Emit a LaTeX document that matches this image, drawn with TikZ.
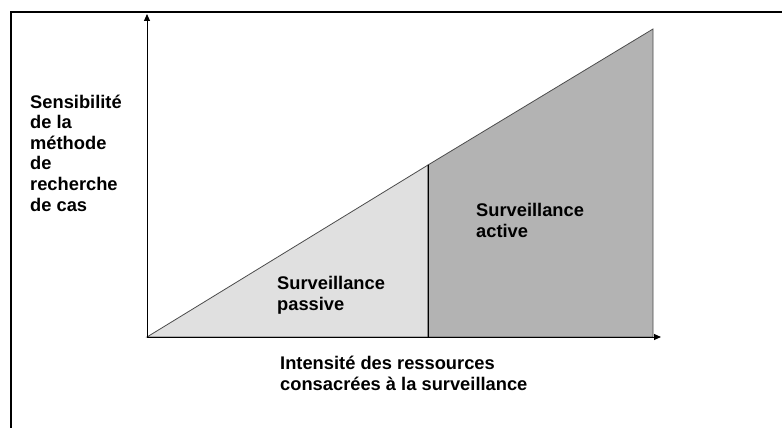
\documentclass[tikz,border=0pt]{standalone}
\usepackage{fontspec}
\setmainfont{Liberation Sans}
\usetikzlibrary{arrows.meta}

\definecolor{passivegray}{HTML}{E0E0E0}
\definecolor{activegray}{HTML}{B3B3B3}
\tikzset{lbl/.style={anchor=base west,align=left,inner sep=0pt,font=\bfseries\fontsize{18.3}{20.6}\selectfont}}

\begin{document}
\begin{tikzpicture}[x=1pt,y=-1pt]
\useasboundingbox (0,0) rectangle (782,428);
\clip (0,0) rectangle (782,428);
\draw[line width=2pt] (11,440) -- (11,12) -- (800,12);
\coordinate (o) at (147,337);
\coordinate (mid) at (428,337);
\coordinate (midtop) at (428,165);
\coordinate (rgt) at (653,337);
\coordinate (apex) at (653,29);
\coordinate (xend) at (661,337);
\coordinate (yend) at (147,14);
\draw[line width=0.8pt,draw=black!70,fill=passivegray] (o) -- (mid) -- (midtop) -- cycle;
\draw[line width=0.8pt,draw=black!70,fill=activegray] (mid) -- (rgt) -- (apex) -- (midtop) -- cycle;
\draw[line width=1pt] (mid) -- (midtop);
\draw[line width=1pt,-{Triangle[length=7pt,width=6pt]}] (o) -- (yend);
\draw[line width=1pt,-{Triangle[length=7pt,width=6pt]}] (o) -- (xend);
\node[lbl] (ylabel) at (30,211) {Sensibilité\\de la\\méthode\\de\\recherche\\de cas};
\node[lbl] (passive) at (277,310) {Surveillance\\passive};
\node[lbl] (active) at (476,237.5) {Surveillance\\active};
\node[lbl] (xlabel) at (280,390.5) {Intensité des ressources\\consacrées à la surveillance};
\end{tikzpicture}
\end{document}
